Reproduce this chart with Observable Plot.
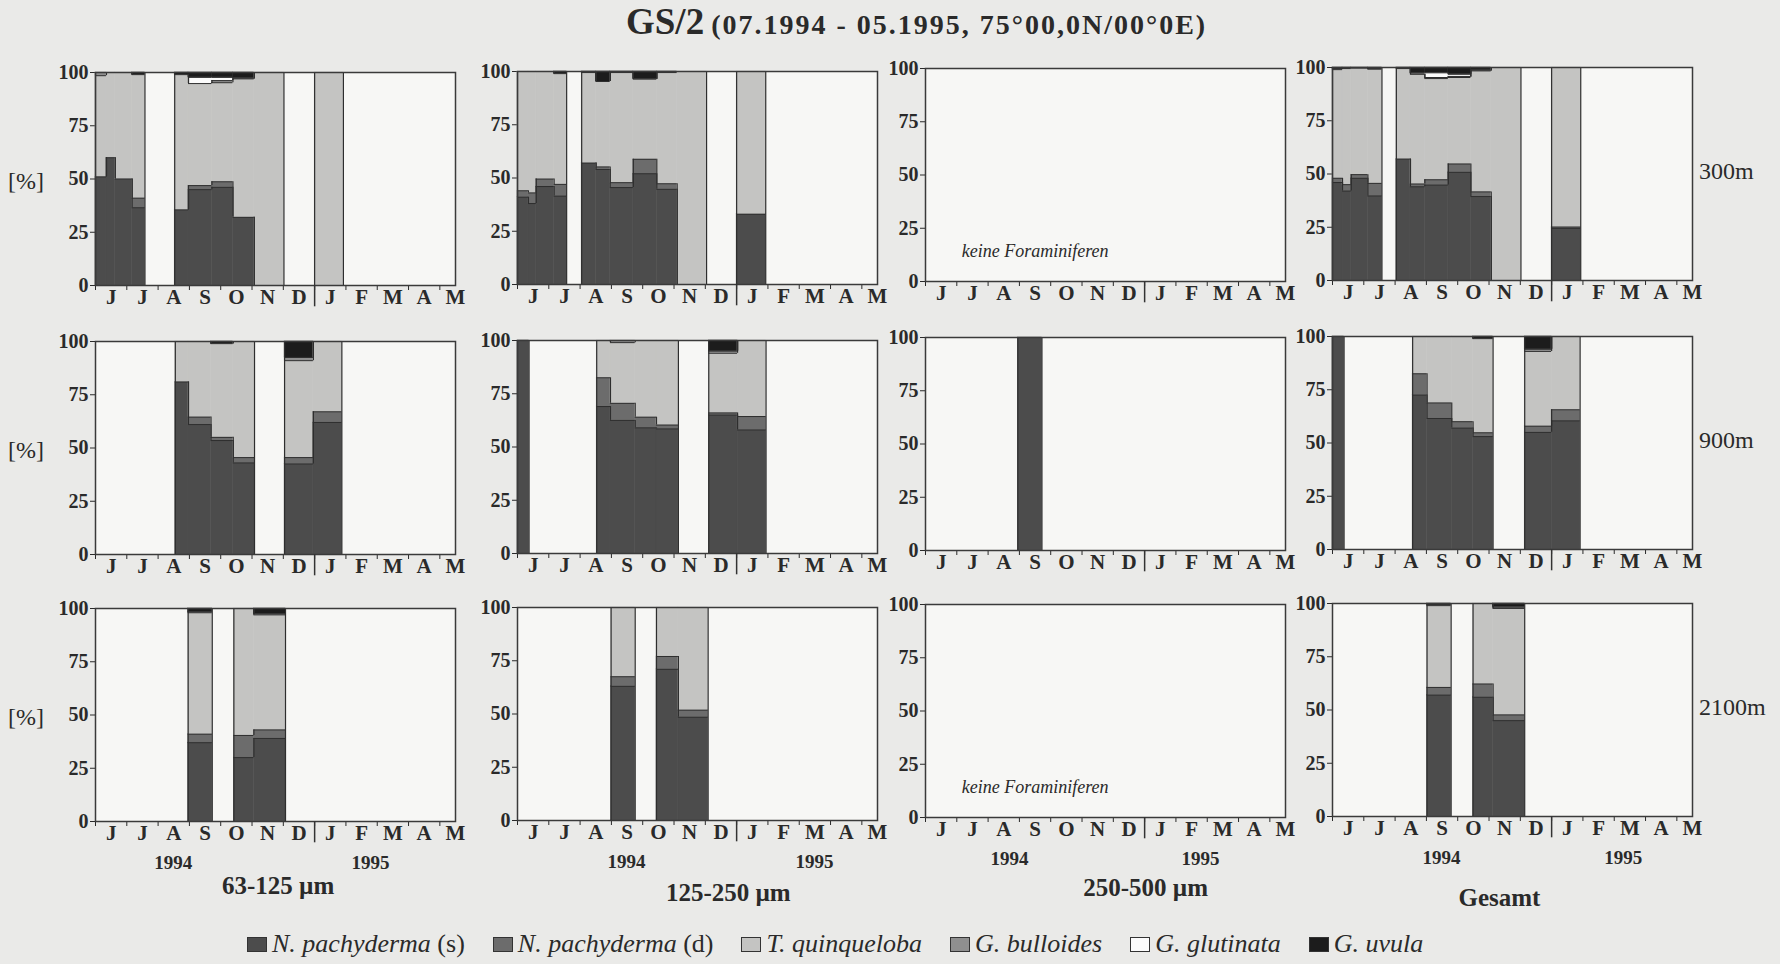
<!DOCTYPE html>
<html>
<head>
<meta charset="utf-8">
<script src="https://cdn.jsdelivr.net/npm/d3@7"></script>
<script src="https://cdn.jsdelivr.net/npm/@observablehq/plot@0.6"></script>
<style>
  html, body { margin: 0; padding: 0; background: #eaeae8; }
  #wrap { position: relative; width: 1780px; height: 964px; overflow: hidden; background: #eaeae8;
          font-family: 'Liberation Serif', 'Times New Roman', serif; color: #2a2a2a; }
  .abs { position: absolute; white-space: nowrap; }
  .title { font-weight: bold; }
  .rowlab { font-size: 24px; }
  .year { font-size: 19px; font-weight: bold; transform: translateX(-50%); }
  .col { font-size: 25px; font-weight: bold; transform: translateX(-50%); }
  .legend { display: flex; align-items: center; font-size: 26px; }
  .legend .item { display: flex; align-items: center; margin-right: 28px; }
  .legend .sw { width: 20px; height: 15px; border: 1px solid #333; margin-right: 5px; box-sizing: border-box; }
  .legend i { font-style: italic; }
</style>
</head>
<body>
<div id="wrap"></div>
<script>
// ---------- categories / labels ----------
const months = ["J", "J", "A", "S", "O", "N", "D", "J", "F", "M", "A", "M"];
const species = ["N. pachyderma (s)", "N. pachyderma (d)", "T. quinqueloba", "G. bulloides", "G. glutinata", "G. uvula"];
const speciesColors = ["#4c4c4c", "#6c6c6c", "#c4c4c2", "#8f8f8f", "#fbfbfb", "#1c1c1c"];
const sizeClasses = ["63-125 µm", "125-250 µm", "250-500 µm", "Gesamt"];
const depths = ["300m", "900m", "2100m"];
const years = ["1994", "1995"];
const emptyNote = "keine Foraminiferen";

// ---------- samples: [start month, end month (months since 1 June 1994), Nps, Npd, Tq, Gb, Gg, Gu] in % ----------
// 300 m
const p63_300 = [
  [0.00, 0.35, 51.0, 0.0, 47.5, 1.5, 0.0, 0.0],
  [0.35, 0.63, 60.0, 0.0, 40.0, 0.0, 0.0, 0.0],
  [0.63, 1.17, 50.0, 0.0, 50.0, 0.0, 0.0, 0.0],
  [1.17, 1.58, 36.5, 4.5, 58.0, 0.0, 0.0, 1.0],
  [2.53, 2.97, 35.5, 0.0, 63.5, 0.0, 0.0, 1.0],
  [2.97, 3.72, 45.0, 1.9, 47.9, 0.0, 2.9, 2.3],
  [3.72, 4.39, 46.1, 2.6, 46.5, 1.0, 1.5, 2.3],
  [4.39, 5.07, 32.0, 0.0, 65.0, 0.0, 0.3, 2.7],
  [5.07, 6.02, 0.0, 0.0, 100.0, 0.0, 0.0, 0.0],
  [7.00, 7.92, 0.0, 0.0, 100.0, 0.0, 0.0, 0.0]
];
const p125_300 = [
  [0.00, 0.35, 41.0, 3.0, 56.0, 0.0, 0.0, 0.0],
  [0.35, 0.60, 38.0, 5.0, 57.0, 0.0, 0.0, 0.0],
  [0.60, 1.17, 46.0, 3.5, 50.5, 0.0, 0.0, 0.0],
  [1.17, 1.57, 41.5, 5.5, 52.0, 0.0, 0.0, 1.0],
  [2.05, 2.51, 57.0, 0.0, 42.5, 0.0, 0.0, 0.5],
  [2.51, 2.96, 54.0, 1.2, 40.1, 0.0, 0.0, 4.7],
  [2.96, 3.70, 45.5, 2.3, 51.7, 0.0, 0.0, 0.5],
  [3.70, 4.45, 52.0, 6.8, 37.6, 0.0, 0.0, 3.6],
  [4.45, 5.10, 44.7, 2.6, 52.2, 0.0, 0.0, 0.5],
  [5.10, 6.04, 0.0, 0.0, 100.0, 0.0, 0.0, 0.0],
  [7.00, 7.93, 33.0, 0.0, 67.0, 0.0, 0.0, 0.0]
];
const p250_300 = [];
const pAll_300 = [
  [0.00, 0.32, 46.0, 2.0, 51.0, 0.5, 0.0, 0.5],
  [0.32, 0.60, 42.0, 3.0, 54.5, 0.0, 0.0, 0.5],
  [0.60, 1.13, 48.0, 1.7, 50.0, 0.0, 0.0, 0.3],
  [1.13, 1.58, 39.7, 5.9, 53.6, 0.0, 0.0, 0.8],
  [2.04, 2.49, 57.0, 0.0, 42.5, 0.0, 0.0, 0.5],
  [2.49, 2.95, 44.0, 1.3, 51.5, 0.0, 0.5, 2.7],
  [2.95, 3.70, 44.8, 2.5, 47.5, 0.5, 2.2, 2.5],
  [3.70, 4.42, 50.8, 3.9, 40.6, 0.5, 1.0, 3.2],
  [4.42, 5.07, 39.4, 2.2, 56.8, 0.0, 0.3, 1.3],
  [5.07, 6.02, 0.0, 0.0, 100.0, 0.0, 0.0, 0.0],
  [7.00, 7.93, 24.5, 0.6, 74.9, 0.0, 0.0, 0.0]
];
// 900 m
const p63_900 = [
  [2.55, 2.97, 81.0, 0.0, 19.0, 0.0, 0.0, 0.0],
  [2.97, 3.69, 61.0, 3.5, 35.5, 0.0, 0.0, 0.0],
  [3.69, 4.40, 53.5, 1.5, 44.0, 0.0, 0.0, 1.0],
  [4.40, 5.08, 43.0, 2.5, 54.5, 0.0, 0.0, 0.0],
  [6.04, 6.96, 42.5, 3.0, 45.5, 1.5, 0.0, 7.5],
  [6.96, 7.87, 62.0, 5.0, 33.0, 0.0, 0.0, 0.0]
];
const p125_900 = [
  [0.00, 0.37, 100.0, 0.0, 0.0, 0.0, 0.0, 0.0],
  [2.53, 2.97, 69.0, 13.5, 17.5, 0.0, 0.0, 0.0],
  [2.97, 3.76, 62.5, 8.0, 28.5, 1.0, 0.0, 0.0],
  [3.76, 4.44, 59.0, 5.0, 36.0, 0.0, 0.0, 0.0],
  [4.44, 5.14, 58.5, 1.8, 39.7, 0.0, 0.0, 0.0],
  [6.11, 7.03, 65.0, 1.0, 28.0, 1.0, 0.0, 5.0],
  [7.03, 7.94, 58.0, 6.3, 35.7, 0.0, 0.0, 0.0]
];
const p250_900 = [
  [2.95, 3.72, 100.0, 0.0, 0.0, 0.0, 0.0, 0.0]
];
const pAll_900 = [
  [0.00, 0.37, 100.0, 0.0, 0.0, 0.0, 0.0, 0.0],
  [2.56, 3.02, 72.5, 10.0, 17.5, 0.0, 0.0, 0.0],
  [3.02, 3.81, 61.5, 7.3, 31.2, 0.0, 0.0, 0.0],
  [3.81, 4.49, 57.0, 3.0, 40.0, 0.0, 0.0, 0.0],
  [4.49, 5.13, 53.0, 1.8, 44.2, 0.0, 0.0, 1.0],
  [6.14, 7.00, 55.0, 2.9, 35.1, 1.0, 0.0, 6.0],
  [7.00, 7.91, 60.4, 5.2, 34.4, 0.0, 0.0, 0.0]
];
// 2100 m
const p63_2100 = [
  [2.96, 3.73, 37.0, 4.0, 57.0, 0.5, 0.0, 1.5],
  [4.42, 5.06, 30.0, 10.4, 59.6, 0.0, 0.0, 0.0],
  [5.06, 6.07, 39.0, 4.0, 54.0, 0.5, 0.0, 2.5]
];
const p125_2100 = [
  [2.99, 3.76, 63.0, 4.5, 32.5, 0.0, 0.0, 0.0],
  [4.44, 5.14, 71.0, 6.0, 23.0, 0.0, 0.0, 0.0],
  [5.14, 6.09, 48.5, 3.3, 48.2, 0.0, 0.0, 0.0]
];
const p250_2100 = [];
const pAll_2100 = [
  [3.02, 3.79, 57.0, 3.6, 38.4, 0.5, 0.0, 0.5],
  [4.49, 5.13, 56.0, 6.2, 37.8, 0.0, 0.0, 0.0],
  [5.13, 6.14, 45.0, 2.7, 50.0, 0.3, 0.5, 1.5]
];

const grid = [
  [p63_300, p125_300, p250_300, pAll_300],
  [p63_900, p125_900, p250_900, pAll_900],
  [p63_2100, p125_2100, p250_2100, pAll_2100]
];

// ---------- layout ----------
const wrap = document.getElementById("wrap");
const colLeft = [95, 517, 925, 1332];
const colDy = [1, 0, -3, -4];
const rowTop = [71, 340, 607];
const PW = 360, PH = 213;
const ML = 52, MR = 10, MT = 10, MB = 34;

function addDiv(cls, html, left, top, extra) {
  const d = document.createElement("div");
  d.className = "abs " + cls;
  d.innerHTML = html;
  d.style.left = left + "px";
  d.style.top = top + "px";
  if (extra) Object.assign(d.style, extra);
  wrap.appendChild(d);
  return d;
}

function panel(rows) {
  const recs = [];
  const cums = rows.map(d => {
    const c = [0];
    let a = 0;
    for (let k = 0; k < 6; k++) { a += d[2 + k]; c.push(a); }
    return c;
  });
  rows.forEach((d, i) => {
    species.forEach((s, k) => {
      if (d[2 + k] > 0) recs.push({x1: d[0], x2: d[1], y1: cums[i][k], y2: cums[i][k + 1], species: s});
    });
  });
  // outlines of the stacked step areas
  const hl = [], vl = [];
  const near = (a, b) => Math.abs(a - b) < 0.03;
  rows.forEach((d, i) => {
    const c = cums[i];
    const levels = new Set();
    for (let k = 1; k < 6; k++) if (c[k] > 0.05 && c[k] < 99.95) levels.add(+c[k].toFixed(2));
    levels.forEach(y => hl.push({x1: d[0], x2: d[1], y}));
    const prev = i > 0 && near(rows[i - 1][1], d[0]) ? cums[i - 1] : null;
    const next = i < rows.length - 1 && near(rows[i + 1][0], d[1]) ? cums[i + 1] : null;
    if (!prev) vl.push({x: d[0], y1: 0, y2: 100});
    else for (let k = 1; k < 6; k++) if (Math.abs(prev[k] - c[k]) > 0.05) vl.push({x: d[0], y1: prev[k], y2: c[k]});
    if (!next) vl.push({x: d[1], y1: 0, y2: 100});
  });
  const marks = [
    Plot.frame({fill: "#f7f7f5"}),
    Plot.rect(recs, {x1: "x1", x2: "x2", y1: "y1", y2: "y2", fill: "species", stroke: "species", strokeWidth: 0.5}),
    Plot.ruleY(hl, {x1: "x1", x2: "x2", y: "y", stroke: "#2e2e2e", strokeWidth: 1}),
    Plot.ruleX(vl, {x: "x", y1: "y1", y2: "y2", stroke: "#2e2e2e", strokeWidth: 1.2}),
    Plot.frame({stroke: "#3a3a3a", strokeWidth: 1.5}),
    Plot.text(months, {x: (d, i) => i + 0.5, frameAnchor: "bottom", dy: 18, text: d => d,
                       fontSize: 21, fontWeight: "bold", fill: "#2a2a2a"}),
    Plot.ruleX([7], {y1: 0, y2: -10, stroke: "#333", strokeWidth: 1.5})
  ];
  if (rows.length === 0) {
    marks.push(Plot.text([emptyNote], {x: 3.5, y: 14, text: d => d, fontStyle: "italic",
                                      fontWeight: "normal", fontSize: 18, fill: "#2a2a2a"}));
  }
  return Plot.plot({
    width: PW + ML + MR, height: PH + MT + MB,
    marginLeft: ML, marginRight: MR, marginTop: MT, marginBottom: MB,
    x: {domain: [0, 11.5], ticks: d3.range(0, 12), tickFormat: () => "", tickSize: 5, label: null},
    y: {domain: [0, 100], ticks: [0, 25, 50, 75, 100], tickSize: 5, tickPadding: 2, label: null},
    color: {domain: species, range: speciesColors},
    style: {fontFamily: "'Liberation Serif', 'Times New Roman', serif", fontSize: "20px", fontWeight: "bold",
            background: "transparent", color: "#2a2a2a", overflow: "visible"},
    marks
  });
}

grid.forEach((row, r) => {
  row.forEach((rows, c) => {
    const svg = panel(rows);
    svg.style.position = "absolute";
    svg.style.left = (colLeft[c] - ML) + "px";
    svg.style.top = (rowTop[r] + colDy[c] - MT) + "px";
    svg.style.maxWidth = "none";
    wrap.appendChild(svg);
  });
  addDiv("rowlab", "[%]", 8, rowTop[r] + PH / 2 - 10);
  addDiv("rowlab", depths[r], 1699, rowTop[r] + PH / 2 - 20);
});

// title
addDiv("title", '<span style="font-size:37px">GS/2</span><span style="font-size:28px">&nbsp;</span><span style="font-size:28px;letter-spacing:2px">(07.1994 - 05.1995, 75°00,0N/00°0E)</span>', 626, 0);

// year labels and size classes under the bottom row
const yearMonth = [[2.5, 8.8], [3.5, 9.5], [2.7, 8.8], [3.5, 9.3]];
const colTitleMonth = [5.85, 6.75, 7.05, 5.35];
const colTitleY = [872, 879, 874, 884];
colLeft.forEach((L, c) => {
  years.forEach((y, k) => {
    addDiv("year", y, L + yearMonth[c][k] * PW / 11.5, 851 + colDy[c]);
  });
  addDiv("col", sizeClasses[c], L + colTitleMonth[c] * PW / 11.5, colTitleY[c]);
});

// legend
const leg = document.createElement("div");
leg.className = "abs legend";
leg.style.left = "247px";
leg.style.top = "929px";
species.forEach((s, k) => {
  const it = document.createElement("div");
  it.className = "item";
  const m = s.match(/^(.*?)(\s\([sd]\))?$/);
  it.innerHTML = `<span class="sw" style="background:${speciesColors[k]}"></span><i>${m[1]}</i>` +
                 (m[2] ? `<span>&nbsp;${m[2].trim()}</span>` : "");
  leg.appendChild(it);
});
wrap.appendChild(leg);
</script>
</body>
</html>
